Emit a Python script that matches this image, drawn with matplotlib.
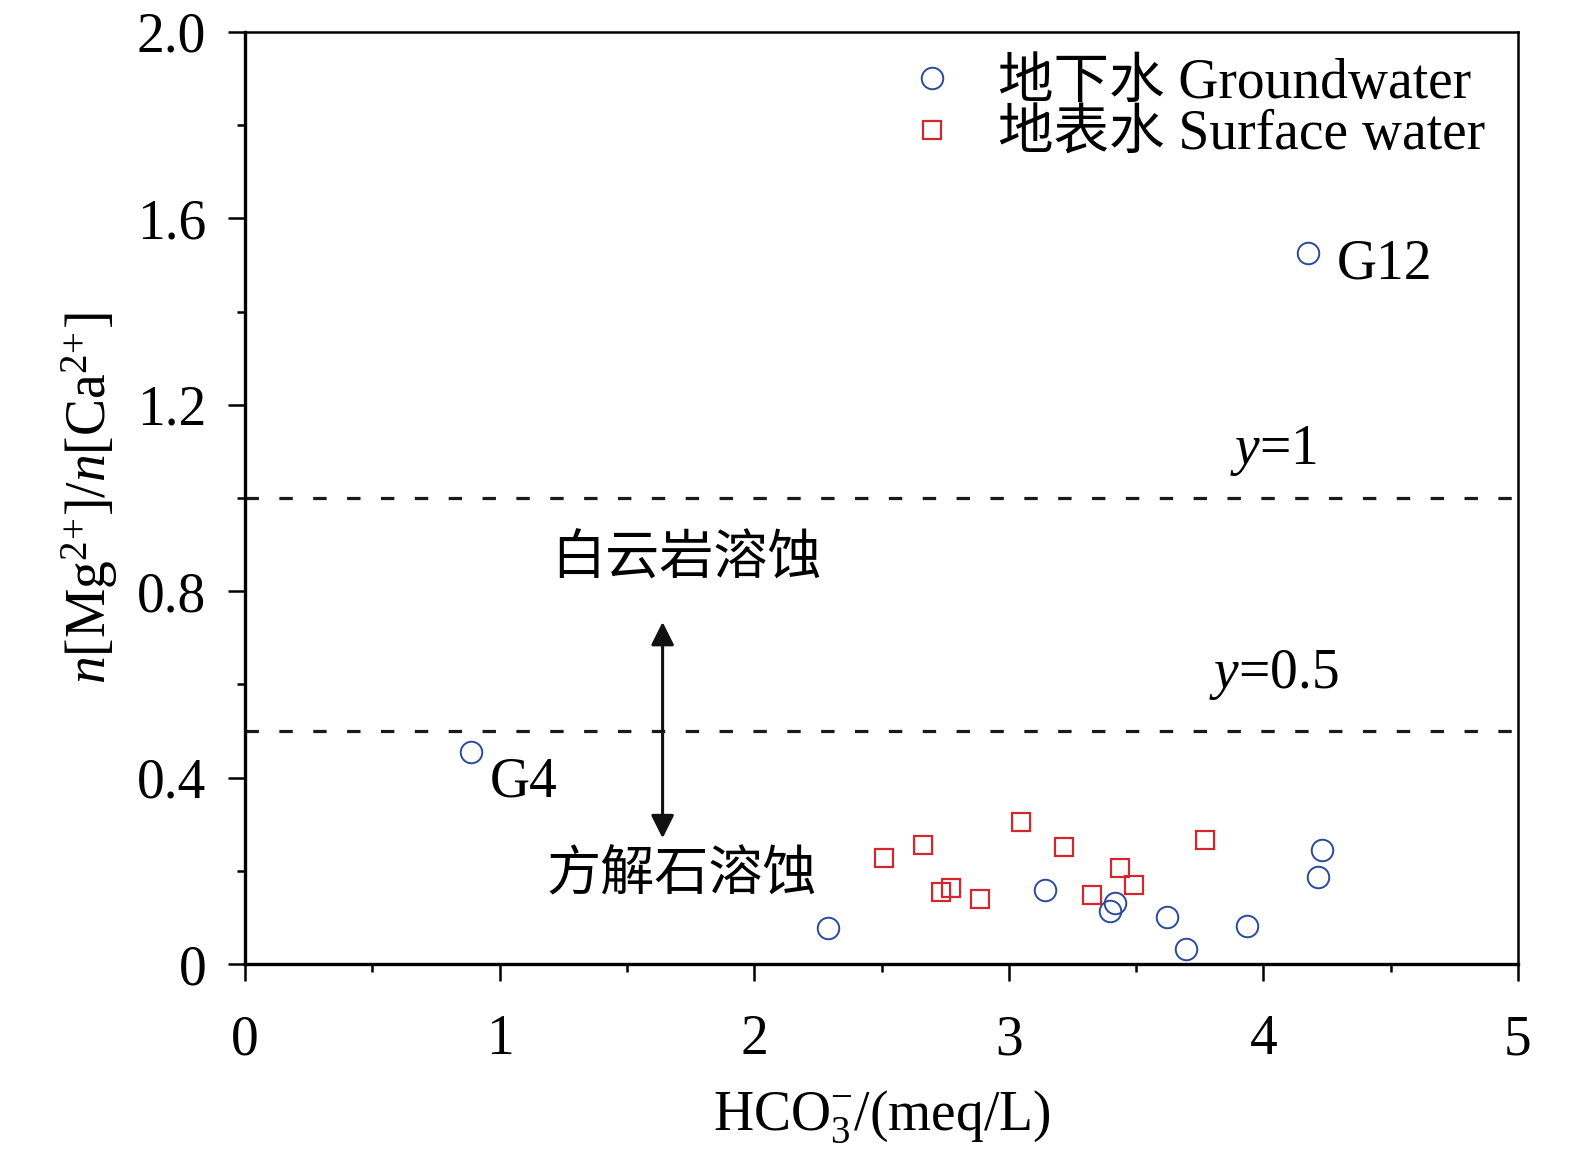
import matplotlib
matplotlib.use("Agg")
import matplotlib.pyplot as plt

plt.rcParams['font.family'] = ['Liberation Serif', 'Noto Sans CJK SC']
plt.rcParams['mathtext.fontset'] = 'custom'
plt.rcParams['mathtext.rm'] = 'Liberation Serif'
plt.rcParams['mathtext.it'] = 'Liberation Serif:italic'

# groundwater samples
gw_x = [0.888, 4.175, 2.29, 3.142, 3.397, 3.417, 3.621, 3.696, 3.936, 4.214, 4.230]
gw_y = [0.455, 1.526, 0.077, 0.159, 0.114, 0.131, 0.101, 0.032, 0.082, 0.187, 0.245]
# surface water samples
sw_x = [2.510, 2.663, 2.734, 2.773, 2.887, 3.048, 3.217, 3.327, 3.437, 3.492, 3.771]
sw_y = [0.227, 0.255, 0.155, 0.163, 0.139, 0.305, 0.251, 0.148, 0.206, 0.170, 0.266]
ref_lines = [1.0, 0.5]

fig = plt.figure(figsize=(15.75, 11.54), dpi=100)
ax = fig.add_axes([0.1556, 0.1646, 0.8082, 0.8077])

for yv in ref_lines:
    ax.plot([0, 5], [yv, yv], color='#1a1a1a', lw=2.3, linestyle=(0, (4.2, 6.4)), zorder=1)

ax.plot(gw_x, gw_y, 'o', ms=15.5, mfc='none', mec='#2c4a9c', mew=1.4,
        label='地下水 Groundwater', zorder=3)
ax.plot(sw_x, sw_y, 's', ms=13.5, mfc='none', mec='#d0282e', mew=1.6,
        label='地表水 Surface water', zorder=3)

ax.annotate('', xy=(1.64, 0.734), xytext=(1.64, 0.27),
            arrowprops=dict(arrowstyle='<|-|>', color='#111111', lw=2.2,
                            mutation_scale=35, shrinkA=0, shrinkB=0))
ax.text(1.735, 0.863, '白云岩溶蚀', fontsize=39, ha='center', va='center')
ax.text(1.715, 0.187, '方解石溶蚀', fontsize=39, ha='center', va='center')
ax.text(4.04, 1.10, r'$\mathit{y}$=1', fontsize=40, ha='center', va='center')
ax.text(4.04, 0.62, r'$\mathit{y}$=0.5', fontsize=40, ha='center', va='center')
ax.text(4.29, 1.50, 'G12', fontsize=40, ha='left', va='center')
ax.text(0.96, 0.39, 'G4', fontsize=40, ha='left', va='center')

ax.set_xlim(0, 5)
ax.set_ylim(0, 2.0)
ax.set_xticks([0, 1, 2, 3, 4, 5])
ax.set_xticks([0.5, 1.5, 2.5, 3.5, 4.5], minor=True)
ax.set_yticks([0, 0.4, 0.8, 1.2, 1.6, 2.0])
ax.set_yticklabels(['0', '0.4', '0.8', '1.2', '1.6', '2.0'])
ax.set_yticks([0.2, 0.6, 1.0, 1.4, 1.8], minor=True)
ax.tick_params(which='major', direction='out', length=12, width=1.8, labelsize=40)
ax.tick_params(axis='x', which='major', pad=24)
ax.tick_params(axis='y', which='major', pad=16)
ax.tick_params(which='minor', direction='out', length=6, width=1.8)
ax.tick_params(top=False, right=False)
for s in ['left', 'bottom']:
    ax.spines[s].set_linewidth(2.4)
for s in ['top', 'right']:
    ax.spines[s].set_linewidth(1.8)

ax.set_xlabel(r'HCO$_3^{-}$/(meq/L)', fontsize=40, labelpad=16)
ax.set_ylabel(r'$\mathit{n}$[Mg$^{2\!+\!}$]/$\mathit{n}$[Ca$^{2\!+\!}$]', fontsize=40, labelpad=12)

ax.legend(loc='upper right', bbox_to_anchor=(0.992, 0.996), frameon=False, fontsize=40,
          handletextpad=0.6, labelspacing=0.0, borderaxespad=0.0, handlelength=1.2)

fig.savefig('out.png', dpi=100)
